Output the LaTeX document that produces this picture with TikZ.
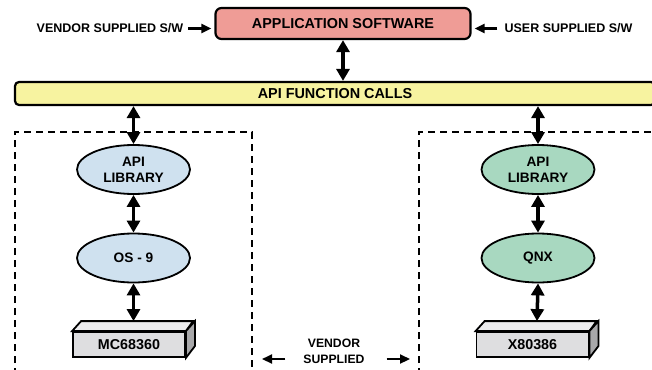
\documentclass[tikz,border=0pt]{standalone}
\usepackage{fontspec}
\setmainfont{Liberation Sans}
\usepackage{tikz}
\usetikzlibrary{shapes.geometric, arrows.meta}

\definecolor{appfill}{RGB}{239,156,150}
\definecolor{barfill}{RGB}{247,243,160}
\definecolor{osblue}{RGB}{207,225,239}
\definecolor{osgreen}{RGB}{168,216,192}
\definecolor{chipfront}{RGB}{222,222,224}
\definecolor{chiptop}{RGB}{236,236,238}
\definecolor{chipside}{RGB}{168,168,170}

\tikzstyle{dbl} = [line width=3.5pt,{Triangle[length=12pt,width=13pt]}-{Triangle[length=12pt,width=13pt]}]
\tikzstyle{arrow} = [line width=2.2pt,-{Triangle[length=10pt,width=9pt]}]
\tikzstyle{lbl} = [inner sep=0pt,font=\bfseries\fontsize{12.5}{14}\selectfont]
\tikzstyle{boxtxt} = [draw,line width=2.2pt,inner sep=0pt,font=\bfseries\fontsize{14.4}{16}\selectfont]
\tikzstyle{os} = [draw,line width=1.8pt,ellipse,minimum width=113pt,minimum height=49pt,inner sep=0pt,align=center,font=\bfseries\fontsize{13.7}{16}\selectfont]
\tikzstyle{chip} = [draw,line width=1.8pt,fill=chipfront,minimum width=112pt,minimum height=25pt,inner sep=0pt,font=\bfseries\fontsize{14.3}{16}\selectfont]
\tikzstyle{vbox} = [line width=2pt,dash pattern=on 7pt off 5pt]

\begin{document}
\begin{tikzpicture}[x=1pt,y=-1pt]
\useasboundingbox (0,0) rectangle (652,369);

% top level
\node[boxtxt,rounded corners=6pt,fill=appfill,minimum width=255pt,minimum height=31pt] (app) at (343,23.5) {APPLICATION SOFTWARE};
\node[lbl] (vsw) at (110,28.5) {VENDOR SUPPLIED S/W};
\node[lbl] (usw) at (568.5,28.5) {USER SUPPLIED S/W};
\draw[arrow,shorten >=3pt] ([xshift=5pt]vsw.east) -- (vsw.east -| app.west);
\draw[arrow,shorten >=3pt] ([xshift=-7pt]usw.west) -- (usw.west -| app.east);

\node[boxtxt,rounded corners=4pt,fill=barfill,minimum width=640pt,minimum height=23pt] (bar) at (335,93.5) {API FUNCTION CALLS};
\draw[dbl] (app.south) -- (app.south |- bar.north);

% vendor boxes
\draw[vbox] (15,375) |- (252,132) -- (252,375);
\draw[vbox] (419,375) |- (660,132);

% left stack
\node[os,fill=osblue] (lib1) at (133.5,169.5) {API\\LIBRARY};
\node[os,fill=osblue] (os9) at (133.5,258) {OS - 9};
\node[chip] (mc) at (129,344.5) {MC68360};
\draw[line width=1.8pt,fill=chiptop] (mc.north west) -- ++(9,-10) -- ++(112,0) -- (mc.north east) -- cycle;
\draw[line width=1.8pt,fill=chipside] (mc.north east) -- ++(9,-10) -- ++(0,25) -- (mc.south east) -- cycle;
\coordinate (mctop) at ([shift={(4.5,-10)}]mc.north);

\draw[dbl] (bar.south -| lib1.north) -- (lib1.north);
\draw[dbl] (lib1.south) -- (os9.north);
\draw[dbl] (os9.south) -- (mctop);

% right stack
\node[os,fill=osgreen] (lib2) at (538,169.5) {API\\LIBRARY};
\node[os,fill=osgreen] (qnx) at (538,258) {QNX};
\node[chip] (x86) at (532.5,344.5) {X80386};
\draw[line width=1.8pt,fill=chiptop] (x86.north west) -- ++(9,-10) -- ++(112,0) -- (x86.north east) -- cycle;
\draw[line width=1.8pt,fill=chipside] (x86.north east) -- ++(9,-10) -- ++(0,25) -- (x86.south east) -- cycle;
\coordinate (x86top) at ([shift={(4.5,-10)}]x86.north);

\draw[dbl] (bar.south -| lib2.north) -- (lib2.north);
\draw[dbl] (lib2.south) -- (qnx.north);
\draw[dbl] (qnx.south) -- (x86top);

% vendor supplied
\node[lbl,font=\bfseries\fontsize{12.2}{14}\selectfont] (vend) at (334,343) {VENDOR};
\node[lbl,font=\bfseries\fontsize{12.2}{14}\selectfont] (supp) at (334,359) {SUPPLIED};
\coordinate (vl) at (262,359);
\coordinate (vr) at (410,359);
\draw[arrow] ([xshift=-18pt]supp.west) -- (vl);
\draw[arrow] ([xshift=22pt]supp.east) -- (vr);

\end{tikzpicture}
\end{document}
